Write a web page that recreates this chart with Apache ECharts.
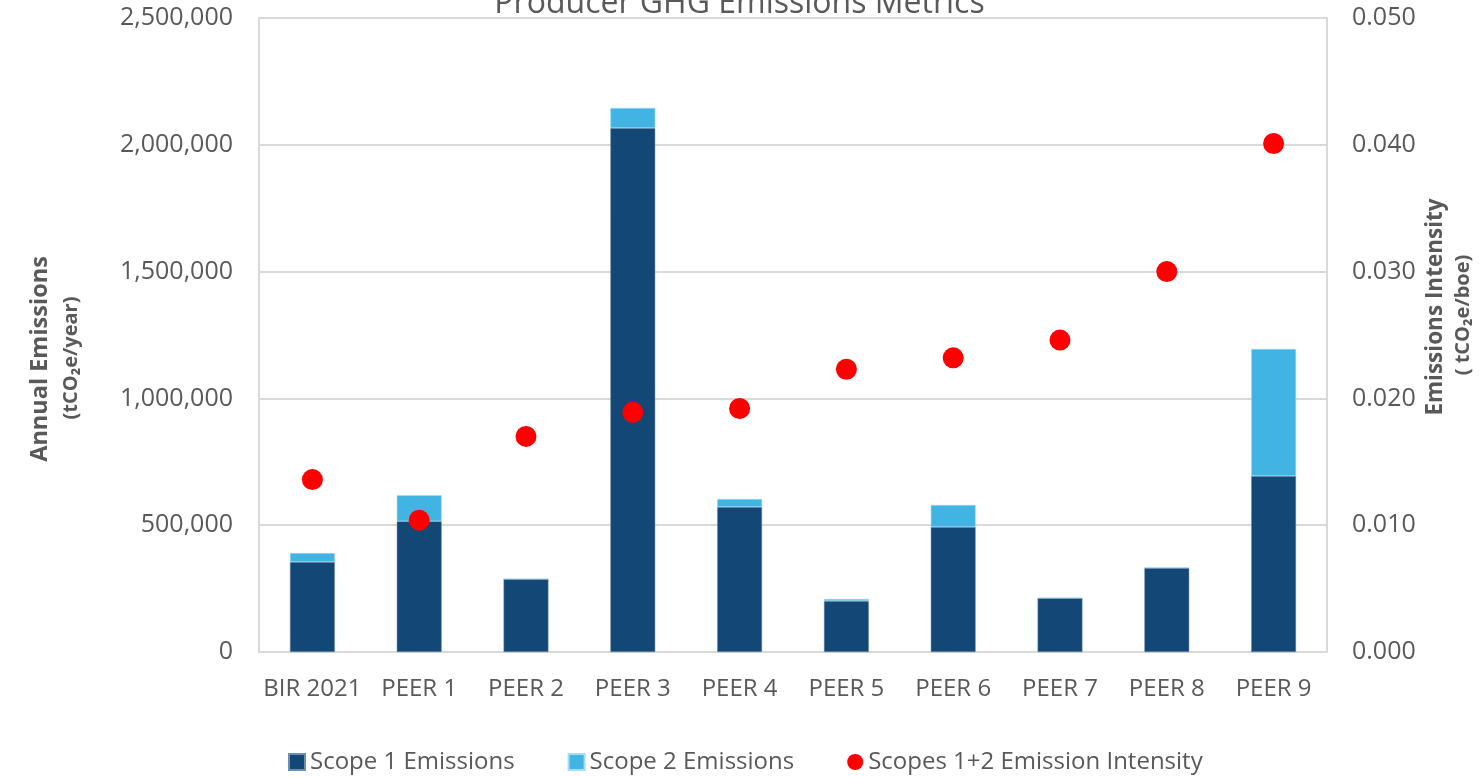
<!DOCTYPE html>
<html>
<head>
<meta charset="utf-8">
<script src="https://cdn.jsdelivr.net/npm/echarts@6/dist/echarts.min.js"></script>
<style>
html,body{margin:0;padding:0;background:#fff;overflow:hidden;}
#chart{width:1479px;height:777px;}
</style>
</head>
<body>
<div id="chart"></div>
<script>
const categories = ['BIR 2021','PEER 1','PEER 2','PEER 3','PEER 4','PEER 5','PEER 6','PEER 7','PEER 8','PEER 9'];
const scope1 = [355000, 516000, 288000, 2066000, 572000, 201000, 493000, 213000, 331000, 694000];
const scope2 = [35000, 102000, 0, 79000, 31000, 8000, 87000, 0, 3000, 501000];
const intensity = [0.0136, 0.0104, 0.0170, 0.0189, 0.0192, 0.0223, 0.0232, 0.0246, 0.0300, 0.0401];
const leftTicks = {min: 0, max: 2500000, interval: 500000};
const rightTicks = {min: 0, max: 0.05, interval: 0.01};
const leftTitle = ['Annual Emissions', '(tCO₂e/year)'];
const rightTitle = ['Emissions Intensity', '( tCO₂e/boe)'];

const FONT = 'Open Sans';
const GREY = '#595959';
const chart = echarts.init(document.getElementById('chart'));

function vText(text, x, y, size) {
  return {
    type: 'text', x: x, y: y, rotation: Math.PI / 2,
    style: {text: text, fill: GREY, font: 'bold ' + size + 'px "' + FONT + '"',
      align: 'center', verticalAlign: 'middle'}
  };
}

chart.setOption({
  animation: false,
  textStyle: {fontFamily: FONT},
  title: {
    text: 'Producer GHG Emissions Metrics',
    left: 'center',
    top: -17,
    textStyle: {fontFamily: FONT, fontSize: 32, fontWeight: 'normal', color: GREY}
  },
  grid: {left: 259, right: 152, top: 18, bottom: 125},
  legend: {
    bottom: -2,
    left: 283,
    itemGap: 53,
    itemWidth: 16,
    itemHeight: 16,
    textStyle: {fontFamily: FONT, fontSize: 24, color: GREY},
    data: [
      {name: 'Scope 1 Emissions', icon: 'rect'},
      {name: 'Scope 2 Emissions', icon: 'rect'},
      {name: 'Scopes 1+2 Emission Intensity', icon: 'circle', itemStyle: {opacity: 1}}
    ]
  },
  graphic: [
    vText(leftTitle[0], 40, 359, 23.5),
    vText(leftTitle[1], 71, 358, 20),
    vText(rightTitle[0], 1436, 307, 22.5),
    vText(rightTitle[1], 1463, 315, 20)
  ],
  xAxis: {
    type: 'category',
    data: categories,
    axisLine: {lineStyle: {color: '#d9d9d9', width: 2}},
    axisTick: {show: false},
    axisLabel: {fontFamily: FONT, fontSize: 24, color: GREY, margin: 25, interval: 0}
  },
  yAxis: [
    {
      type: 'value',
      min: leftTicks.min, max: leftTicks.max, interval: leftTicks.interval,
      position: 'left',
      axisLine: {show: true, lineStyle: {color: '#d9d9d9', width: 2}},
      axisTick: {show: false},
      splitLine: {lineStyle: {color: '#d9d9d9', width: 2}},
      axisLabel: {fontFamily: FONT, fontSize: 25, color: GREY, margin: 26,
        formatter: v => v.toLocaleString('en-US')}
    },
    {
      type: 'value',
      min: rightTicks.min, max: rightTicks.max, interval: rightTicks.interval,
      position: 'right',
      axisLine: {show: true, lineStyle: {color: '#d9d9d9', width: 2}},
      axisTick: {show: false},
      splitLine: {show: false},
      axisLabel: {fontFamily: FONT, fontSize: 25, color: GREY, margin: 25,
        formatter: v => v.toFixed(3)}
    }
  ],
  series: [
    {
      name: 'Scope 1 Emissions', type: 'bar', stack: 'em', data: scope1,
      barWidth: '42%',
      itemStyle: {color: '#134876', borderColor: '#6f8fb0', borderWidth: 0.5}
    },
    {
      name: 'Scope 2 Emissions', type: 'bar', stack: 'em', data: scope2,
      barWidth: '42%',
      itemStyle: {color: '#41b4e3', borderColor: '#a8dcf2', borderWidth: 0.5}
    },
    {
      name: 'Scopes 1+2 Emission Intensity', type: 'scatter', yAxisIndex: 1,
      data: intensity, symbol: 'circle', symbolSize: 21,
      itemStyle: {color: '#ff0000', opacity: 1}, z: 5
    }
  ]
});
</script>
</body>
</html>
